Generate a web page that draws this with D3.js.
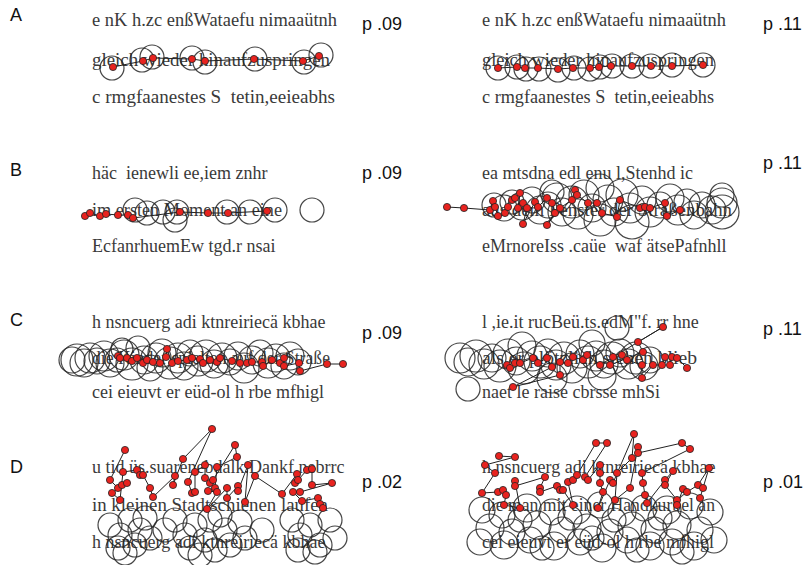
<!DOCTYPE html>
<meta charset="utf-8">
<html>
  <head>
    <style>
      body { margin: 0; background: #fff; }
      .stim { font-family: "Liberation Serif", "Times New Roman", serif; font-size: 18px; fill: #3a3a3a; }
      .lab { font-family: "Liberation Sans", Arial, sans-serif; font-size: 18px; fill: #111; }
    </style>
    <script src="https://d3js.org/d3.v7.min.js"></script>
  </head>
  <body>
<div id="fig"></div>
<script>

// row letters and p values
var rowNames = ["A", "B", "C", "D"];
var pLeft = ["p .09", "p .09", "p .09", "p .02"];
var pRight = ["p .11", "p .11", "p .11", "p .01"];

// stimulus sentences (three lines per panel)
var textA = ["e nK h.zc enßWataefu nimaaütnh", "gleich wieder hinaufzuspringen", "c rmgfaanestes S  tetin,eeieabhs"];
var textB1 = ["häc  ienewli ee,iem znhr", "im ersten Moment an eine", "EcfanrhuemEw tgd.r nsai"];
var textB2 = ["ea mtsdna edl enu l,Stenhd ic", "aus dem Fenster der Straßenbahn", "eMrnoreIss .caüe  waf ätsePafnhll"];
var textC1 = ["h nsncuerg adi ktnreiriecä kbhae", "die Kinder spielten auf der Straße", "cei eieuvt er eüd-ol h rbe mfhigl"];
var textC2 = ["l ,ie.it rucBeü.ts.edM\"f. rr hne", "als er plötzlich stehen blieb", "naet le raise cbrsse mhSi"];
var textD1 = ["u tid üs.suarenebdalk.Dankf.nebrrc", "in kleinen Stadtschienen laufen", "h nsncuerg adi ktnreiriecä kbhae"];
var textD2 = ["h nsncuerg adi ktnreiriecä kbhae", "die man mit einer Handkurbel an", "cei eieuvt er eüd-ol h rbe mfhigl"];

// fixations (sequence order) [x, y] in stimulus px
var dotsA1 = [[21,67],[51,61],[61,58],[100,59],[113,61],[162,59],[211,61],[227,56]];
var dotsA2 = [[16,68],[35,67],[43,68],[56,68],[76,69],[91,68],[108,68],[117,67],[129,66],[150,66],[169,66],[190,66],[221,65]];
var dotsB1 = [[-7,66],[-2,63],[8,66],[14,64],[26,65],[36,65],[41,68],[88,62],[116,63],[136,63],[175,61]];
var dotsB2 = [[-35,57],[-18,58],[8,60],[11,51],[13,57],[16,66],[23,63],[26,57],[30,50],[33,48],[38,43],[36,58],[41,53],[45,58],[41,74],[53,52],[56,57],[65,48],[70,53],[73,63],[65,75],[78,58],[90,50],[93,40],[95,45],[106,53],[115,53],[120,63],[135,67],[138,50],[158,58],[163,57],[168,58],[183,53],[185,66],[198,60]];
var dotsC1 = [[26,58],[28,60],[35,60],[40,63],[45,60],[51,65],[55,62],[61,64],[68,65],[74,59],[75,51],[80,65],[86,63],[95,62],[100,60],[108,61],[111,65],[118,62],[125,64],[128,60],[140,63],[148,65],[155,65],[160,64],[170,64],[171,68],[180,62],[188,65],[192,60],[192,68],[207,65],[208,73],[235,66],[251,66]];
var dotsC2 = [[25,67],[28,70],[33,65],[38,65],[51,60],[56,65],[65,60],[70,69],[31,89],[78,77],[78,64],[86,65],[91,59],[101,62],[105,57],[118,67],[181,29],[156,44],[161,54],[128,67],[131,59],[140,57],[145,62],[160,67],[160,80],[171,67],[180,67],[183,59],[188,67],[190,59],[195,60],[205,70]];
var dotsD1 = [[33,30],[18,60],[26,68],[30,65],[35,63],[20,73],[28,80],[31,52],[45,50],[48,55],[51,55],[58,68],[61,77],[83,56],[81,65],[91,39],[120,9],[96,62],[100,73],[103,72],[103,52],[113,45],[113,58],[118,63],[121,60],[143,25],[145,37],[125,47],[123,68],[116,71],[125,72],[115,89],[135,68],[135,78],[146,66],[146,71],[156,45],[153,82],[163,56],[190,74],[205,54],[203,63],[206,60],[215,50],[220,49],[220,65],[240,63],[208,72],[201,72],[210,81],[226,78],[228,84],[231,88]];
var dotsD2 = [[17,36],[33,37],[3,45],[13,53],[0,73],[16,72],[21,70],[24,75],[22,85],[38,88],[33,61],[33,66],[63,57],[58,68],[58,72],[75,66],[78,70],[81,70],[91,85],[86,62],[91,60],[95,55],[114,23],[125,23],[103,57],[106,60],[118,45],[118,53],[118,63],[121,72],[116,88],[128,60],[131,63],[152,14],[150,38],[135,53],[133,80],[148,68],[156,27],[156,33],[200,23],[208,29],[160,53],[161,63],[163,75],[165,83],[183,60],[191,51],[183,65],[195,80],[195,85],[201,69],[205,72],[216,65],[227,48],[221,68],[218,78]];

// predicted fixation areas [x, y, r]
var circA1 = [[20,68,12],[50,60,12],[60,57,12],[100,58,12],[113,62,12],[163,59,12],[212,62,12],[229,55,12]];
var circA2 = [[16,68,12],[35,67,12],[44,69,12],[57,69,12],[76,70,12],[92,68,12],[108,69,12],[118,67,12],[130,66,12],[150,66,12],[169,66,12],[190,65,12],[221,65,12]];
var circB1 = [[43,60,12],[55,63,12],[71,62,12],[85,62,12],[83,70,12],[135,62,12],[158,62,12],[183,60,12],[220,60,12]];
var circB2 = [[12,55,12],[22,58,13],[30,52,12],[40,56,14],[50,50,13],[58,60,14],[66,55,13],[70,42,12],[75,48,15],[80,62,14],[90,52,16],[96,64,15],[102,45,15],[110,58,14],[118,38,14],[118,70,16],[126,50,15],[132,62,14],[140,45,16],[148,58,15],[150,72,17],[160,50,14],[168,62,15],[178,55,13],[188,48,14],[196,60,15],[205,52,13],[212,65,14],[220,55,13],[230,60,14],[240,45,12],[240,53,15],[240,62,17]];
var circC1 = [[-20,62,13],[-15,62,16],[-8,65,14],[-2,60,15],[5,63,13],[12,58,15],[18,65,14],[25,62,12],[30,51,11],[32,57,15],[40,66,16],[46,50,12],[52,62,14],[58,70,13],[64,60,15],[70,55,14],[78,65,16],[86,60,15],[92,68,14],[98,55,13],[106,63,15],[114,58,16],[122,66,14],[130,60,15],[138,64,13],[146,58,14],[152,70,15],[160,62,14],[168,55,13],[176,65,15],[184,60,14],[192,68,13],[198,58,14],[206,64,13]];
var circC2 = [[-22,60,15],[-14,64,14],[-6,58,16],[2,66,15],[10,60,14],[18,68,16],[26,56,15],[34,63,14],[42,70,16],[40,48,14],[50,58,15],[58,64,16],[66,55,14],[70,80,15],[74,67,15],[82,60,16],[90,70,15],[98,56,14],[106,64,16],[110,45,13],[114,58,15],[122,66,14],[120,78,14],[130,60,16],[138,55,14],[146,66,15],[154,60,16],[162,68,14],[168,62,13],[-14,91,12],[135,30,12]];
var circD1 = [[18,105,12],[28,115,12],[38,100,12],[48,110,12],[26,128,12],[43,125,12],[53,98,12],[58,118,12],[33,133,12],[73,110,12],[83,100,12],[93,115,12],[103,105,12],[113,120,12],[118,100,12],[123,130,12],[133,110,12],[138,125,12],[148,102,12],[153,118,12],[108,135,12],[98,128,12],[128,95,12],[170,110,12],[200,100,12],[208,115,12],[218,105,12],[228,125,12],[238,100,12],[206,130,12],[223,132,12],[243,118,12]];
var circD2 = [[0,90,13],[20,95,13],[45,88,14],[70,92,13],[95,90,14],[118,85,13],[140,92,14],[162,88,13],[185,90,14],[208,86,13],[228,92,13],[8,108,14],[30,112,13],[55,105,14],[80,110,13],[105,108,14],[128,112,13],[150,106,14],[172,110,13],[195,105,14],[218,110,13],[-2,122,13],[22,125,14],[48,120,13],[72,126,14],[98,122,13],[120,128,14],[145,120,13],[168,126,14],[190,122,13],[212,126,14],[232,120,13],[38,100,12],[88,98,12],[132,100,12],[178,98,12],[110,118,12],[60,128,12],[155,130,12],[200,132,12]];

// layout
var W = 808, H = 565;
var colX = [92, 482];
var rowTop = [0, 150, 298, 420];
var lineY = [[20, 60, 97], [23, 60, 96], [24, 60, 94], [47, 85, 122]];
var pY = [[24, 24], [23, 13], [35, 31], [62, 62]];
var letterY = [15, 20, 22, 47];
// rendered widths of the sentence lines (null = natural width)
var lineW = [
  [[245, 238, 243], [244, 232, 232]],
  [[null, 190, null], [null, 250, null]],
  [[null, 238, null], [null, 215, null]],
  [[null, 236, null], [null, 233, null]]
];

var panels = [
  {row: 0, col: 0, text: textA,  dots: dotsA1, circ: circA1, p: pLeft[0]},
  {row: 0, col: 1, text: textA,  dots: dotsA2, circ: circA2, p: pRight[0]},
  {row: 1, col: 0, text: textB1, dots: dotsB1, circ: circB1, p: pLeft[1]},
  {row: 1, col: 1, text: textB2, dots: dotsB2, circ: circB2, p: pRight[1]},
  {row: 2, col: 0, text: textC1, dots: dotsC1, circ: circC1, p: pLeft[2]},
  {row: 2, col: 1, text: textC2, dots: dotsC2, circ: circC2, p: pRight[2]},
  {row: 3, col: 0, text: textD1, dots: dotsD1, circ: circD1, p: pLeft[3]},
  {row: 3, col: 1, text: textD2, dots: dotsD2, circ: circD2, p: pRight[3]}
];

var svg = d3.select("#fig")
  .append("svg")
  .attr("width", W)
  .attr("height", H);

// row letters
svg.selectAll("text.row")
  .data(rowNames)
  .join("text")
  .attr("class", "lab")
  .attr("x", 10)
  .attr("y", function(d, i) { return rowTop[i] + letterY[i] + 6; })
  .text(function(d) { return d; });

panels.forEach(function(pn) {
  var ox = colX[pn.col], oy = rowTop[pn.row];
  var x = d3.scaleLinear().domain([0, 260]).range([ox, ox + 260]);
  var y = d3.scaleLinear().domain([0, 140]).range([oy, oy + 140]);
  var g = svg.append("g");
  var widths = lineW[pn.row][pn.col];

  g.selectAll("text.stim")
    .data(pn.text)
    .join("text")
    .attr("class", "stim")
    .attr("x", x(0))
    .attr("y", function(d, i) { return y(lineY[pn.row][i]) + 6; })
    .attr("xml:space", "preserve")
    .style("white-space", "pre")
    .text(function(d) { return d; })
    .each(function(d, i) {
      if (widths[i]) {
        d3.select(this).attr("textLength", widths[i]).attr("lengthAdjust", "spacingAndGlyphs");
      }
    });

  g.selectAll("circle.area")
    .data(pn.circ)
    .join("circle")
    .attr("cx", function(d) { return x(d[0]); })
    .attr("cy", function(d) { return y(d[1]); })
    .attr("r", function(d) { return x(d[2]) - x(0); })
    .attr("fill", "none")
    .attr("stroke", "#262626")
    .attr("stroke-opacity", 0.85)
    .attr("stroke-width", 1.2);

  g.append("path")
    .datum(pn.dots)
    .attr("d", d3.line().x(function(d) { return x(d[0]); }).y(function(d) { return y(d[1]); }))
    .attr("fill", "none")
    .attr("stroke", "#222")
    .attr("stroke-width", 1);

  g.selectAll("circle.fix")
    .data(pn.dots)
    .join("circle")
    .attr("cx", function(d) { return x(d[0]); })
    .attr("cy", function(d) { return y(d[1]); })
    .attr("r", 3.6)
    .attr("fill", "#e8231f")
    .attr("stroke", "#222")
    .attr("stroke-width", 0.8);

  g.append("text")
    .attr("class", "lab")
    .attr("x", pn.col === 0 ? 362 : 763)
    .attr("y", oy + pY[pn.row][pn.col] + 6)
    .attr("xml:space", "preserve")
    .style("white-space", "pre")
    .text(pn.p);
});

</script>
</body>
</html>
